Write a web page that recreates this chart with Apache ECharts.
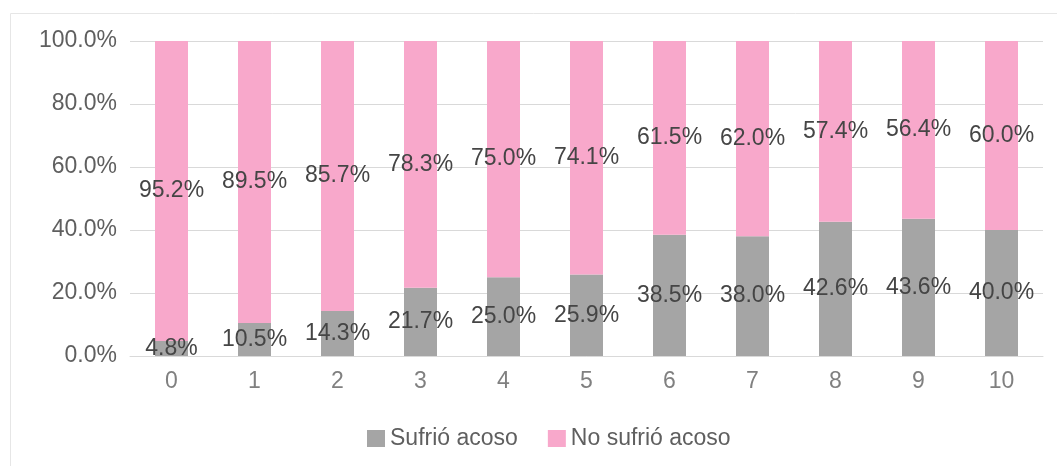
<!DOCTYPE html>
<html>
<head>
    <meta charset="utf-8">
    <title>ECharts</title>
    <script src="https://cdn.jsdelivr.net/npm/echarts@6/dist/echarts.min.js"></script>
    <style>
        body { margin: 0; background: #fff; }
    </style>
</head>
<body>
    <div id="main" style="width:1057px;height:466px;"></div>
    <script type="text/javascript">
        var categories = ['0', '1', '2', '3', '4', '5', '6', '7', '8', '9', '10'];
        var sufrio = [4.8, 10.5, 14.3, 21.7, 25.0, 25.9, 38.5, 38.0, 42.6, 43.6, 40.0];
        var noSufrio = [95.2, 89.5, 85.7, 78.3, 75.0, 74.1, 61.5, 62.0, 57.4, 56.4, 60.0];

        var myChart = echarts.init(document.getElementById('main'));

        var font = 'Liberation Sans, Arial, sans-serif';
        var labelStyle = {
            show: true,
            position: 'inside',
            color: '#454545',
            fontSize: 23,
            fontFamily: font,
            formatter: function (p) { return p.value.toFixed(1) + '%'; }
        };

        var option = {
            animation: false,
            color: ['#a5a5a5', '#f8a8cb'],
            graphic: [{
                type: 'polyline',
                shape: { points: [[10.5, 466], [10.5, 13.5], [1057, 13.5]] },
                style: { stroke: '#e6e6e6', fill: null, lineWidth: 1 }
            }],
            legend: {
                top: 422,
                left: 362,
                itemWidth: 18,
                itemHeight: 17,
                itemGap: 30,
                icon: 'rect',
                textStyle: { color: '#5f5f5f', fontSize: 23, fontFamily: font },
                data: ['Sufrió acoso', 'No sufrió acoso']
            },
            grid: { left: 130, right: 14, top: 41, bottom: 110 },
            xAxis: {
                type: 'category',
                data: categories,
                axisLine: { lineStyle: { color: '#d9d9d9' } },
                axisTick: { show: false },
                axisLabel: { color: '#808080', fontSize: 23, margin: 14, fontFamily: font }
            },
            yAxis: {
                type: 'value',
                min: 0,
                max: 100,
                interval: 20,
                axisLine: { show: false },
                axisTick: { show: false },
                splitLine: { lineStyle: { color: '#d9d9d9' } },
                axisLabel: {
                    color: '#5f5f5f',
                    fontSize: 23,
                    margin: 13,
                    fontFamily: font,
                    formatter: function (v) { return v.toFixed(1) + '%'; }
                }
            },
            series: [
                {
                    name: 'Sufrió acoso',
                    type: 'bar',
                    stack: 'total',
                    barWidth: 33,
                    data: sufrio,
                    label: labelStyle
                },
                {
                    name: 'No sufrió acoso',
                    type: 'bar',
                    stack: 'total',
                    barWidth: 33,
                    data: noSufrio,
                    label: labelStyle
                }
            ]
        };

        myChart.setOption(option);
    </script>
</body>
</html>
